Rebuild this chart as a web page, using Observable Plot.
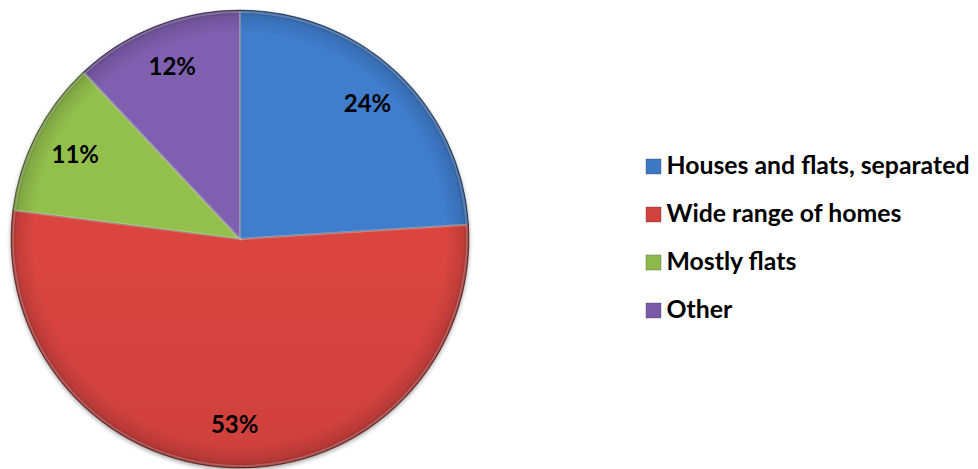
<!DOCTYPE html>
<html><head><meta charset="utf-8">
<script src="https://cdn.jsdelivr.net/npm/d3@7"></script>
<script src="https://cdn.jsdelivr.net/npm/@observablehq/plot@0.6"></script>
<style>html,body{margin:0;padding:0;background:#fff;} svg{display:block;}</style>
</head><body><div id="chart"></div>
<script>
// ---- data ----
const categories = ["Houses and flats, separated", "Wide range of homes", "Mostly flats", "Other"];
const shares = [24, 53, 11, 12];
const labels = ["24%", "53%", "11%", "12%"];
const colors = ["#3D78C4", "#D2423E", "#8DB84A", "#7A5BA8"];

// ---- layout ----
const W = 978, H = 469;
const mL = 11, mR = 509, mT = 10, mB = 1;
const R = (W - mL - mR) / 2;        // pixel radius
const cxPx = mL + R, cyPx = mT + (H - mT - mB) / 2;
const px2x = px => (px - cxPx) / R;
const py2y = py => (cyPx - py) / R;

const data = categories.map((c, i) => ({category: c, value: shares[i], label: labels[i], i}));
const arcs = d3.pie().sort(null).value(d => d.value).startAngle(0).endAngle(2 * Math.PI)(data);
const labelR = 0.81;
const labelData = arcs.map(a => {
  const m = (a.startAngle + a.endAngle) / 2;
  return {label: a.data.label, x: labelR * Math.sin(m), y: labelR * Math.cos(m)};
});
const legendData = categories.map((c, i) => ({category: c, x: px2x(653), tx: px2x(666), y: py2y(166 + i * 48)}));

function pieMark(index, scales) {
  const g = d3.create("svg:g");
  const cx = scales.x(0), cy = scales.y(0), r = scales.x(1) - scales.x(0);
  const defs = g.append("defs");
  const f = defs.append("filter").attr("id", "pshadow").attr("x", "-10%").attr("y", "-10%").attr("width", "120%").attr("height", "120%");
  f.append("feGaussianBlur").attr("in", "SourceAlpha").attr("stdDeviation", 2);
  f.append("feOffset").attr("dx", 0).attr("dy", 1.5).attr("result", "ob");
  f.append("feComponentTransfer").append("feFuncA").attr("type", "linear").attr("slope", 0.35);
  const fm = f.append("feMerge"); fm.append("feMergeNode"); fm.append("feMergeNode").attr("in", "SourceGraphic");
  arcs.forEach((a, k) => {
    const col = d3.color(scales.color(a.data.category));
    const lg = defs.append("linearGradient").attr("id", "sg" + k).attr("gradientUnits", "userSpaceOnUse")
      .attr("x1", cx).attr("y1", cy - r).attr("x2", cx).attr("y2", cy + r);
    lg.append("stop").attr("offset", "0%").attr("stop-color", col.brighter(0.12));
    lg.append("stop").attr("offset", "100%").attr("stop-color", col.darker(0.25));
  });
  const rg = defs.append("radialGradient").attr("id", "rim").attr("gradientUnits", "userSpaceOnUse")
    .attr("cx", cx).attr("cy", cy).attr("r", r);
  rg.append("stop").attr("offset", "0.90").attr("stop-color", "#000").attr("stop-opacity", 0);
  rg.append("stop").attr("offset", "0.975").attr("stop-color", "#000").attr("stop-opacity", 0.12);
  rg.append("stop").attr("offset", "1").attr("stop-color", "#000").attr("stop-opacity", 0.35);
  const arc = d3.arc().innerRadius(0).outerRadius(r);
  const pg = g.append("g").attr("transform", `translate(${cx},${cy})`).attr("filter", "url(#pshadow)");
  arcs.forEach((a, k) => {
    pg.append("path").attr("d", arc(a)).attr("fill", `url(#sg${k})`)
      .attr("stroke", "rgba(0,0,0,0.5)").attr("stroke-width", 0.8).attr("stroke-linejoin", "round");
  });
  g.append("circle").attr("cx", cx).attr("cy", cy).attr("r", r).attr("fill", "url(#rim)");
  const hg = g.append("g").attr("transform", `translate(${cx},${cy})`);
  const arcIn = d3.arc().innerRadius(0).outerRadius(r - 2);
  arcs.forEach(a => {
    hg.append("path").attr("d", arcIn(a)).attr("fill", "none")
      .attr("stroke", "rgba(255,255,255,0.22)").attr("stroke-width", 2);
  });
  return g.node();
}

const chart = Plot.plot({
  width: W, height: H,
  marginLeft: mL, marginRight: mR, marginTop: mT, marginBottom: mB,
  x: {domain: [-1, 1], axis: null},
  y: {domain: [-1, 1], axis: null},
  color: {domain: categories, range: colors},
  style: {fontFamily: "Lato, 'Open Sans', sans-serif", background: "white", overflow: "visible"},
  marks: [
    pieMark,
    Plot.text(labelData, {x: "x", y: "y", text: "label", fill: "black", fontSize: 24, fontWeight: "bold"}),
    Plot.dot(legendData, {x: "x", y: "y", symbol: "square", r: 8.5, fill: "category", stroke: "#333", strokeOpacity: 0.35, strokeWidth: 0.8}),
    Plot.text(legendData, {x: "tx", y: "y", text: "category", textAnchor: "start", fill: "black", fontSize: 24.8, fontWeight: "bold"})
  ]
});
document.getElementById("chart").appendChild(chart);
</script>
</body></html>
